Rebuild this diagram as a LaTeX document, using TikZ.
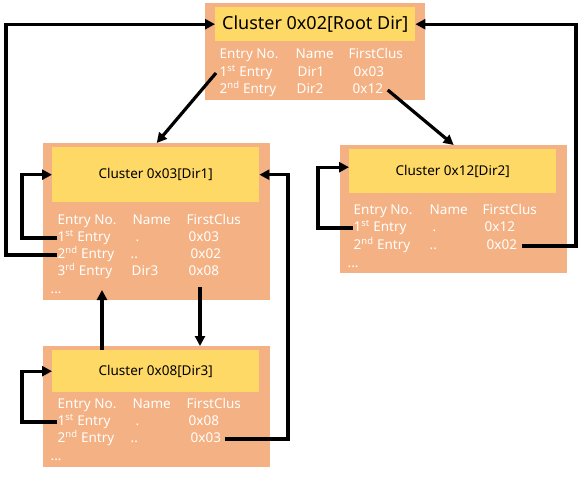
\documentclass[tikz,border=0pt]{standalone}
\usepackage{fontspec}
\setmainfont{Noto Sans}
\usetikzlibrary{arrows.meta,positioning}
\definecolor{clusorange}{HTML}{F4B183}
\definecolor{titleyellow}{HTML}{FFD966}

\begin{document}
\begin{tikzpicture}[
                x=1pt, y=-1pt,
                >={Triangle[length=10pt,width=10pt]},
                clusbox/.style={fill=clusorange, anchor=north west, inner sep=0pt},
                clushead/.style={fill=titleyellow, anchor=north west, inner sep=0pt,
                    font=\fontsize{13.5}{16}\selectfont},
                entry/.style={anchor=west, inner sep=0.5pt, text=white,
                    font=\fontsize{13.5}{16}\selectfont, text height=10pt, text depth=3pt},
                link/.style={->, line width=3.2pt}]
            \useasboundingbox (0,0) rectangle (585,476);

            % cluster boxes
            \node[clusbox, minimum width=220pt, minimum height=97pt]  (root) at (205,3)   {};
            \node[clusbox, minimum width=227pt, minimum height=157pt] (d1)   at (43,143)  {};
            \node[clusbox, minimum width=227pt, minimum height=128pt] (d2)   at (340,145) {};
            \node[clusbox, minimum width=227pt, minimum height=121pt] (d3)   at (43,346)  {};

            \node[clushead, minimum width=200pt, minimum height=34pt,
                font=\fontsize{18}{22}\selectfont]                    (rootT) at (215,7)   {Cluster 0x02[Root Dir]};
            \node[clushead, minimum width=207pt, minimum height=55pt] (d1T)   at (52,147)  {Cluster 0x03[Dir1]};
            \node[clushead, minimum width=207pt, minimum height=44pt] (d2T)   at (349,149) {Cluster 0x12[Dir2]};
            \node[clushead, minimum width=207pt, minimum height=42pt] (d3T)   at (52,350)  {Cluster 0x08[Dir3]};

            % root dir entries
            \node[entry] (rH1) at (219,55) {Entry No.};
            \node[entry] (rH2) at (295,55) {Name};
            \node[entry] (rH3) at (348,55) {FirstClus};
            \node[entry] (r1a) at (219,73) {1\textsuperscript{st} Entry};
            \node[entry] (r1b) at (297,73) {Dir1};
            \node[entry] (r1c) at (353,73) {0x03};
            \node[entry] (r2a) at (219,90) {2\textsuperscript{nd} Entry};
            \node[entry] (r2b) at (296,90) {Dir2};
            \node[entry] (r2c) at (352,90) {0x12};

            % dir1 entries
            \node[entry] (d1H1) at (57,221)  {Entry No.};
            \node[entry] (d1H2) at (132,221) {Name};
            \node[entry] (d1H3) at (186,221) {FirstClus};
            \node[entry] (d1a1) at (57,238)  {1\textsuperscript{st} Entry};
            \node[entry] (d1b1) at (135,238) {.};
            \node[entry] (d1c1) at (188,238) {0x03};
            \node[entry] (d1a2) at (57,255)  {2\textsuperscript{nd} Entry};
            \node[entry] (d1b2) at (130,255) {..};
            \node[entry] (d1c2) at (190,255) {0x02};
            \node[entry] (d1a3) at (57,272)  {3\textsuperscript{rd} Entry};
            \node[entry] (d1b3) at (131,272) {Dir3};
            \node[entry] (d1c3) at (188,272) {0x08};
            \node[entry] (d1e)  at (50,290)  {...};

            % dir2 entries
            \node[entry] (d2H1) at (353,211) {Entry No.};
            \node[entry] (d2H2) at (429,211) {Name};
            \node[entry] (d2H3) at (482,211) {FirstClus};
            \node[entry] (d2a1) at (353,228) {1\textsuperscript{st} Entry};
            \node[entry] (d2b1) at (432,228) {.};
            \node[entry] (d2c1) at (484,228) {0x12};
            \node[entry] (d2a2) at (353,246) {2\textsuperscript{nd} Entry};
            \node[entry] (d2b2) at (429,246) {..};
            \node[entry] (d2c2) at (486,246) {0x02};
            \node[entry] (d2e)  at (347,264) {...};

            % dir3 entries
            \node[entry] (d3H1) at (57,405)  {Entry No.};
            \node[entry] (d3H2) at (132,405) {Name};
            \node[entry] (d3H3) at (186,405) {FirstClus};
            \node[entry] (d3a1) at (57,422)  {1\textsuperscript{st} Entry};
            \node[entry] (d3b1) at (135,422) {.};
            \node[entry] (d3c1) at (188,422) {0x08};
            \node[entry] (d3a2) at (57,439)  {2\textsuperscript{nd} Entry};
            \node[entry] (d3b2) at (130,439) {..};
            \node[entry] (d3c2) at (190,439) {0x03};
            \node[entry] (d3e)  at (50,457)  {...};

            % rails for the bent links
            \coordinate (railA) at (6,0);
            \coordinate (railB) at (22,0);
            \coordinate (railC) at (318,0);
            \coordinate (railD) at (576,0);
            \coordinate (railE) at (288,0);
            \coordinate (upEnd) at (102,290);
            \coordinate (downStart) at (200,287);

            \draw[link] ([xshift=-3pt]r1a.west) -- (d1.north);
            \draw[link] ([xshift=4pt]r2c.east) -- (d2.north);
            \draw[link] (d1a1.west) -- (d1a1.west -| railB) |- (d1T.west);
            \draw[link] (d1a2.west) -- (d1a2.west -| railA) |- (rootT.west);
            \draw[link] (d2a1.west) -- (d2a1.west -| railC) |- ([yshift=4pt]d2T.west);
            \draw[link] ([xshift=4pt]d2c2.east) -- (d2c2.east -| railD) |- (rootT.east);
            \draw[link] ([xshift=3pt]d3c2.east) -- (d3c2.east -| railE) |- (d1T.east);
            \draw[link] (d3a1.west) -- (d3a1.west -| railB) |- (d3T.west);
            \draw[link] (d3T.north -| upEnd) -- (upEnd);
            \draw[link] (downStart) -- (downStart |- d3.north);
        \end{tikzpicture}
\end{document}
